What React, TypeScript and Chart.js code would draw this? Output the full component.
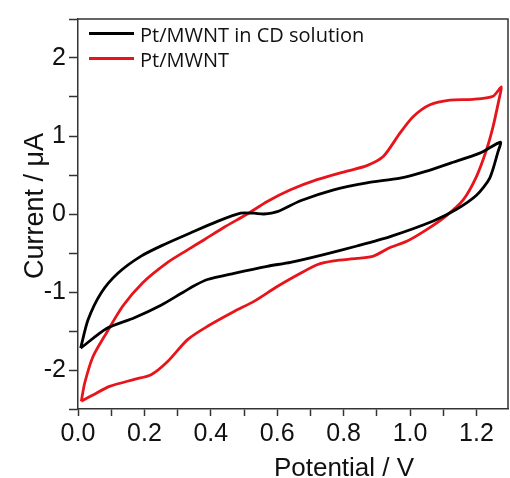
import React, { useEffect, useRef } from "react";
import { Chart, registerables } from "chart.js";

Chart.register(...registerables);

// Pt/MWNT in CD solution (black) – closed CV loop
const blackV = [0.008, 0.03, 0.07, 0.12, 0.19, 0.26, 0.34, 0.42, 0.49, 0.53, 0.56, 0.6, 0.67, 0.77, 0.87, 0.97, 1.05, 1.12, 1.21, 1.272,
  1.265, 1.24, 1.2, 1.14, 1.07, 0.94, 0.84, 0.74, 0.64, 0.57, 0.47, 0.39, 0.35, 0.31, 0.25, 0.17, 0.085, 0.008];
const blackI = [-1.72, -1.36, -1.01, -0.76, -0.54, -0.39, -0.24, -0.095, 0.01, 0.01, 0.0, 0.03, 0.17, 0.31, 0.4, 0.46, 0.55, 0.65, 0.78, 0.92,
  0.8, 0.46, 0.24, 0.06, -0.09, -0.29, -0.41, -0.52, -0.62, -0.67, -0.76, -0.84, -0.92, -1.02, -1.17, -1.33, -1.47, -1.72];

// Pt/MWNT (red) – closed CV loop
const redV = [0.01, 0.02, 0.045, 0.085, 0.135, 0.195, 0.27, 0.33, 0.38, 0.44, 0.51, 0.57, 0.64, 0.72, 0.81, 0.87, 0.92, 0.97, 1.01, 1.06, 1.12, 1.19, 1.25, 1.275,
  1.268, 1.25, 1.23, 1.2, 1.16, 1.11, 1.05, 0.99, 0.94, 0.89, 0.84, 0.77, 0.72, 0.67, 0.6, 0.53, 0.47, 0.39, 0.33, 0.27, 0.22, 0.17, 0.095, 0.045, 0.01];
const redI = [-2.4, -2.17, -1.83, -1.53, -1.18, -0.88, -0.62, -0.46, -0.33, -0.17, 0.0, 0.16, 0.31, 0.44, 0.55, 0.62, 0.74, 1.04, 1.25, 1.4, 1.46, 1.47, 1.51, 1.63,
  1.47, 1.12, 0.82, 0.48, 0.18, -0.02, -0.2, -0.35, -0.43, -0.54, -0.57, -0.6, -0.65, -0.76, -0.93, -1.12, -1.25, -1.44, -1.61, -1.89, -2.06, -2.12, -2.21, -2.32, -2.4];

const seriesLabels = ["Pt/MWNT in CD solution", "Pt/MWNT"];
const seriesColors = ["#000000", "#e8141b"];
const xTitle = "Potential / V";
const yTitle = "Current / \u03bcA";
const xMin = 0;
const xMax = 1.295;
const yMin = -2.5;
const yMax = 2.5;

const FONT = "'Liberation Sans', Arial, sans-serif";

const decorPlugin = {
  id: "decor",
  afterDraw(chart: any) {
    const { ctx, chartArea } = chart;
    const { left, top, right, bottom } = chartArea;
    ctx.save();
    // frame top & right
    ctx.strokeStyle = "#333";
    ctx.lineWidth = 1.5;
    ctx.beginPath();
    ctx.moveTo(left, top);
    ctx.lineTo(right, top);
    ctx.lineTo(right, bottom);
    ctx.stroke();

    // legend
    ctx.font = "20px 'Open Sans', sans-serif";
    ctx.textBaseline = "alphabetic";
    ctx.textAlign = "left";
    chart.data.datasets.forEach((ds: any, i: number) => {
      const ly = 33.5 + i * 25;
      ctx.strokeStyle = ds.borderColor;
      ctx.lineWidth = 3;
      ctx.beginPath();
      ctx.moveTo(89, ly);
      ctx.lineTo(134, ly);
      ctx.stroke();
      ctx.fillStyle = "#111";
      ctx.fillText(ds.label, 140, ly + 8);
    });

    // axis titles
    ctx.fillStyle = "#111";
    ctx.font = "26px " + FONT;
    ctx.textAlign = "center";
    ctx.textBaseline = "alphabetic";
    ctx.fillText(xTitle, 344, 476);

    ctx.translate(43, 206);
    ctx.rotate(-Math.PI / 2);
    ctx.font = "27px " + FONT;
    ctx.fillText(yTitle, 0, 0);
    ctx.restore();
  },
};

export default function App() {
  const ref = useRef<HTMLCanvasElement>(null);
  useEffect(() => {
    const canvas = ref.current!;
    const mk = (vs: number[], is: number[]) => vs.map((v, k) => ({ x: v, y: is[k] }));
    const chart = new Chart(canvas, {
      type: "scatter",
      data: {
        datasets: [
          {
            label: seriesLabels[0],
            data: mk(blackV, blackI),
            borderColor: seriesColors[0],
            backgroundColor: seriesColors[0],
            showLine: true,
            borderWidth: 2.8,
            pointRadius: 0,
            tension: 0.25,
          },
          {
            label: seriesLabels[1],
            data: mk(redV, redI),
            borderColor: seriesColors[1],
            backgroundColor: seriesColors[1],
            showLine: true,
            borderWidth: 2.8,
            pointRadius: 0,
            tension: 0.25,
          },
        ],
      },
      options: {
        animation: false,
        responsive: false,
        maintainAspectRatio: false,
        layout: { padding: { top: 19, right: 2, left: 0, bottom: 0 } },
        plugins: { legend: { display: false }, tooltip: { enabled: false } },
        scales: {
          x: {
            type: "linear",
            min: xMin,
            max: xMax,
            afterFit: (s: any) => { s.height = 69; },
            ticks: {
              stepSize: 0.1,
              includeBounds: false,
              autoSkip: false,
              maxRotation: 0,
              padding: 3,
              color: "#111",
              font: { family: FONT, size: 25 },
              callback: (v: any) => {
                const n = Number(v);
                return Math.abs(n * 5 - Math.round(n * 5)) < 1e-6 ? n.toFixed(1) : "";
              },
            },
            grid: { display: true, drawOnChartArea: false, drawTicks: true, tickLength: 7, tickColor: "#333", tickWidth: 1.5 },
            border: { display: true, color: "#333", width: 1.5 },
          },
          y: {
            type: "linear",
            min: yMin,
            max: yMax,
            afterFit: (s: any) => { s.width = 78; },
            ticks: {
              stepSize: 0.5,
              includeBounds: false,
              autoSkip: false,
              padding: 3,
              color: "#111",
              font: { family: FONT, size: 25 },
              callback: (v: any) => {
                const n = Number(v);
                return Math.abs(n - Math.round(n)) < 1e-6 ? String(Math.round(n)) : "";
              },
            },
            grid: { display: true, drawOnChartArea: false, drawTicks: true, tickLength: 9, tickColor: "#333", tickWidth: 1.5 },
            border: { display: true, color: "#333", width: 1.5 },
          },
        },
      },
      plugins: [decorPlugin],
    });
    return () => chart.destroy();
  }, []);
  return (
    <div style={{ position: "fixed", left: 0, top: 0, width: 510, height: 478, background: "#fff" }}>
      <canvas ref={ref} width={510} height={478} style={{ width: 510, height: 478, display: "block" }} />
    </div>
  );
}
